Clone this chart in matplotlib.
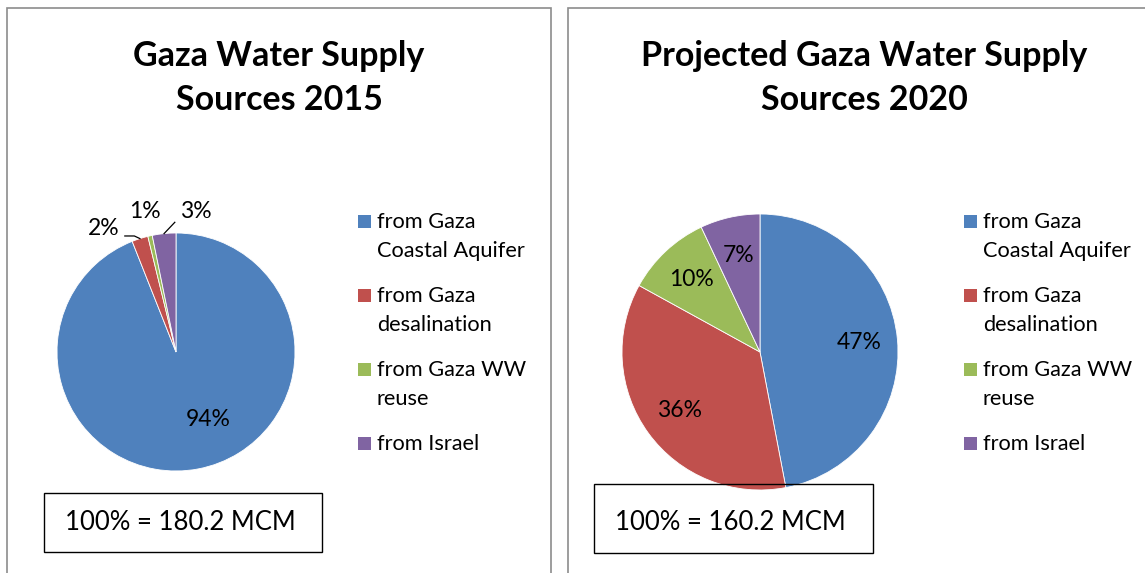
import matplotlib
matplotlib.use("Agg")
import matplotlib.pyplot as plt
from matplotlib.patches import Rectangle
import numpy as np

plt.rcParams['font.family'] = ['Lato', 'DejaVu Sans']

categories = ["from Gaza\nCoastal Aquifer", "from Gaza\ndesalination", "from Gaza WW\nreuse", "from Israel"]
colors = ["#4F81BD", "#C0504D", "#9BBB59", "#8064A2"]

values_2015 = [94.0, 2.2, 0.6, 3.2]
labels_2015 = ["94%", "2%", "1%", "3%"]
values_2020 = [47, 36, 10, 7]
labels_2020 = ["47%", "36%", "10%", "7%"]

title_2015 = "Gaza Water Supply\nSources 2015"
title_2020 = "Projected Gaza Water Supply\nSources 2020"
total_2015 = "100% = 180.2 MCM"
total_2020 = "100% = 160.2 MCM"

W, H = 1145, 573
fig = plt.figure(figsize=(W / 100, H / 100), dpi=100)
fig.patch.set_facecolor("white")

LABEL_FS = 16.5
LEGEND_FS = 15.7
TITLE_FS = 24.5
BOX_FS = 18.5


def fx(px):
    return px / W


def fy(py):
    return 1 - py / H


# panel borders
for x0, x1 in [(7, 551), (568, 1160)]:
    fig.add_artist(Rectangle((fx(x0), fy(590)), fx(x1 - x0), (590 - 8) / H,
                             transform=fig.transFigure, fill=False,
                             edgecolor="#8c8c8c", linewidth=1.2))


def pie_axes(cx, cy, r):
    ax = fig.add_axes([fx(cx - r), fy(cy + r), fx(2 * r), 2 * r / H])
    ax.axis("off")
    return ax


def fix_limits(ax):
    ax.set_aspect("auto")
    ax.set_xlim(-1, 1)
    ax.set_ylim(-1, 1)


def edge_pt(w):
    th = np.deg2rad((w.theta1 + w.theta2) / 2)
    return np.cos(th), np.sin(th)


def draw_legend(x, y_first, handles):
    for i, (cat, w) in enumerate(zip(categories, handles)):
        y = y_first + i * 74
        fig.add_artist(Rectangle((fx(x), fy(y + 7)), fx(13), 13 / H,
                                 transform=fig.transFigure, facecolor=w.get_facecolor(),
                                 edgecolor="none"))
        fig.text(fx(x + 19), fy(y - 9), cat, ha="left", va="top",
                 fontsize=LEGEND_FS, linespacing=1.55)


# ---- left panel ----
fig.text(fx(279), fy(78), title_2015, ha="center", va="center",
         fontsize=TITLE_FS, fontweight="bold", linespacing=1.45)
axL = pie_axes(176, 352, 119)
wedgesL, _ = axL.pie(values_2015, colors=colors, startangle=90, counterclock=False,
                     radius=1, wedgeprops=dict(edgecolor="white", linewidth=0.6))
fix_limits(axL)
pos_L = [(0.27, -0.57), (-0.61, 1.04), (-0.26, 1.18), (0.17, 1.18)]
for lab, p in zip(labels_2015, pos_L):
    axL.text(p[0], p[1], lab, ha="center", va="center", fontsize=LABEL_FS, clip_on=False)
ex, ey = edge_pt(wedgesL[1])
axL.plot([-0.43, -0.35, ex], [0.975, 0.975, ey], color="black", lw=0.9, clip_on=False)
ex, ey = edge_pt(wedgesL[3])
axL.plot([ex, -0.01], [ey, 1.09], color="black", lw=0.9, clip_on=False)

draw_legend(358, 221, wedgesL)

fig.add_artist(Rectangle((fx(44), fy(552)), fx(322 - 44), (552 - 493) / H,
                         transform=fig.transFigure, fill=False, edgecolor="black", linewidth=1.0))
fig.text(fx(65), fy(523), total_2015, ha="left", va="center", fontsize=BOX_FS)

# ---- right panel ----
fig.text(fx(864), fy(78), title_2020, ha="center", va="center",
         fontsize=TITLE_FS, fontweight="bold", linespacing=1.45)
axR = pie_axes(760, 352, 138)
wedgesR, _, autoR = axR.pie(values_2020, colors=colors, startangle=90, counterclock=False,
                            radius=1, autopct="%1.0f%%", pctdistance=0.72,
                            wedgeprops=dict(edgecolor="white", linewidth=0.6))
fix_limits(axR)
for t, lab in zip(autoR, labels_2020):
    t.set_text(lab)
    t.set_fontsize(LABEL_FS)

draw_legend(964, 221, wedgesR)

fig.add_artist(Rectangle((fx(594), fy(553)), fx(873 - 594), (553 - 484) / H,
                         transform=fig.transFigure, fill=False, edgecolor="black", linewidth=1.0))
fig.text(fx(615), fy(522), total_2020, ha="left", va="center", fontsize=BOX_FS)

fig.savefig("out.png", dpi=100, facecolor="white")
